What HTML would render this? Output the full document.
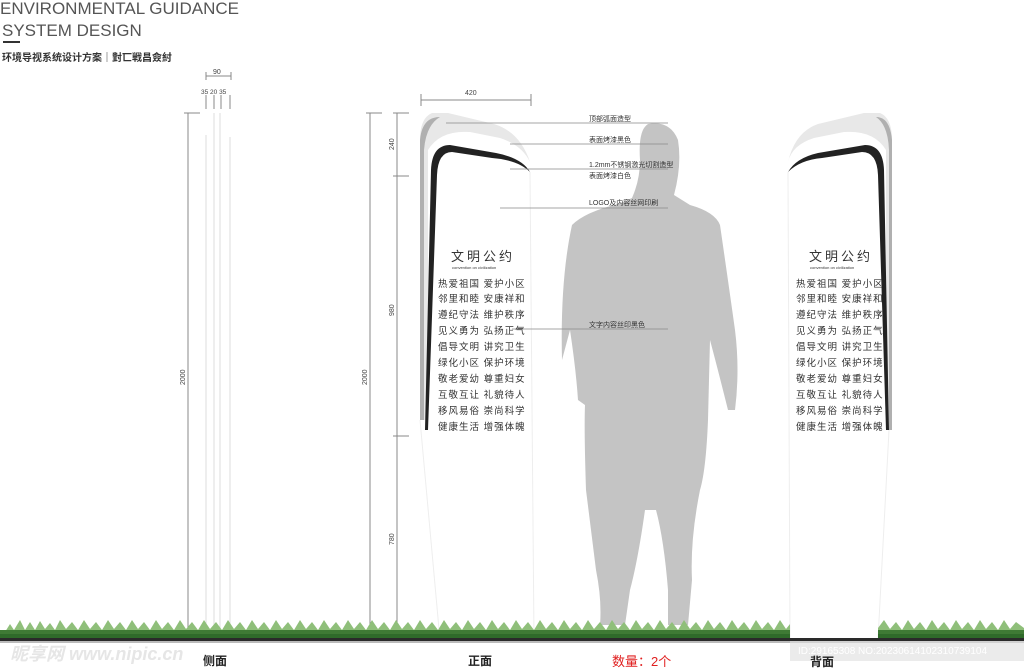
<!DOCTYPE html>
<html><head><meta charset="utf-8">
<style>
body{margin:0;background:#fff;}
svg{display:block;}
.t{font-family:"Liberation Sans","Noto Sans CJK SC",sans-serif;}
</style></head><body>
<svg width="1024" height="669" viewBox="0 0 1024 669" xmlns="http://www.w3.org/2000/svg">
<rect width="1024" height="669" fill="#fff"/>
<text x="0" y="14" class="t" font-size="17" fill="#555">ENVIRONMENTAL GUIDANCE</text>
<text x="2" y="36" class="t" font-size="17" fill="#555">SYSTEM DESIGN</text>
<rect x="3" y="41" width="17" height="2" fill="#333"/>
<text x="2" y="61" class="t" font-size="10" font-weight="bold" fill="#333">环境导视系统设计方案｜對匸戦昌僉紂</text>

<g stroke="#888" stroke-width="1" fill="none">
<line x1="206" y1="76" x2="231" y2="76"/><line x1="206" y1="72" x2="206" y2="80"/><line x1="231" y1="72" x2="231" y2="80"/>
<line x1="206" y1="95" x2="206" y2="109"/><line x1="214" y1="95" x2="214" y2="109"/><line x1="221" y1="95" x2="221" y2="109"/><line x1="230" y1="95" x2="230" y2="109"/>
<line x1="188" y1="113" x2="188" y2="640"/><line x1="184" y1="113" x2="200" y2="113"/>
<line x1="370" y1="113" x2="370" y2="640"/><line x1="366" y1="113" x2="382" y2="113"/>
<line x1="397" y1="113" x2="397" y2="636"/>
<line x1="393" y1="113" x2="409" y2="113"/><line x1="393" y1="176" x2="409" y2="176"/><line x1="393" y1="436" x2="409" y2="436"/><line x1="393" y1="635" x2="409" y2="635"/>
<line x1="421" y1="100" x2="531" y2="100"/><line x1="421" y1="94" x2="421" y2="106"/><line x1="531" y1="94" x2="531" y2="106"/>
</g>
<g stroke="#ddd" stroke-width="1">
<line x1="206" y1="135" x2="206" y2="640"/><line x1="214" y1="113" x2="214" y2="640"/><line x1="220" y1="113" x2="220" y2="640"/><line x1="230" y1="137" x2="230" y2="640"/>
</g>
<g class="t" font-size="7" fill="#444">
<text x="213" y="74">90</text>
<text x="201" y="94" font-size="6.5">35 20 35</text>
<text x="465" y="95">420</text>
<text transform="translate(185,385) rotate(-90)">2000</text>
<text transform="translate(367,385) rotate(-90)">2000</text>
<text transform="translate(394,150) rotate(-90)">240</text>
<text transform="translate(394,316) rotate(-90)">980</text>
<text transform="translate(394,545) rotate(-90)">780</text>
</g>

<!-- person -->
<path fill="#c4c4c4" d="M648 124 Q670 120 678 140 Q682 165 674 195 L690 205 Q715 212 720 225 Q728 280 735 330 Q740 370 735 410 L728 410 Q718 370 710 340 L708 420 Q706 470 700 490 Q690 540 692 580 L688 625 L668 625 L668 590 Q664 540 656 510 L645 510 Q638 560 630 590 L625 625 L600 625 Q602 600 596 570 L586 490 Q584 430 585 405 L578 400 Q576 370 570 330 L562 360 Q560 280 572 225 Q585 212 618 204 L632 198 Q640 180 640 160 Q638 130 648 124 Z"/>

<!-- front sign -->
<path fill="#e8e8e8" d="M432 113 Q420 118 420 140 L420 420 L428 420 L428 150 Q440 130 470 132 L500 138 Q522 145 530 162 Q520 132 494 124 L448 113 Z"/>
<path fill="#b0b0b0" d="M420 140 L420 420 L424 420 L424 150 Q426 125 440 117 Q422 117 420 140 Z"/>
<path fill="#222" d="M425 430 L431 170 Q432 145 450 145 L496 153 Q522 158 530 172 Q518 160 492 158 L452 152 Q438 152 437 175 L428 430 Z"/>
<path fill="none" stroke="#eee" d="M420 420 L440 640 M530 172 L534 640"/>

<!-- back sign -->
<path fill="#e8e8e8" d="M880 113 Q892 118 892 140 L892 420 L886 420 L886 150 Q874 130 844 132 L814 138 Q792 145 788 162 Q795 132 818 124 L864 113 Z"/>
<path fill="#b0b0b0" d="M892 140 L892 430 L889 430 L889 150 Q888 125 876 117 Q890 117 892 140 Z"/>
<path fill="#222" d="M889 430 L884 170 Q883 145 865 145 L818 153 Q796 158 788 172 Q800 160 822 158 L862 152 Q877 152 878 175 L886 430 Z"/>
<path fill="none" stroke="#eee" d="M788 172 L790 640 M889 430 L878 640"/>

<!-- callouts -->
<g stroke="#888" stroke-width="0.8">
<line x1="446" y1="123" x2="668" y2="123"/>
<line x1="510" y1="144" x2="668" y2="144"/>
<line x1="510" y1="169" x2="668" y2="169"/>
<line x1="500" y1="208" x2="668" y2="208"/>
<line x1="512" y1="329" x2="668" y2="329"/>
</g>
<g class="t" font-size="7" fill="#333">
<text x="589" y="121">顶部弧面造型</text>
<text x="589" y="142">表面烤漆黑色</text>
<text x="589" y="167">1.2mm不锈钢激光切割造型</text>
<text x="589" y="178">表面烤漆白色</text>
<text x="589" y="205">LOGO及内容丝网印刷</text>
<text x="589" y="327">文字内容丝印黑色</text>
</g>

<g class="t" fill="#333" font-size="9.5" letter-spacing="1">
<text x="451" y="261" font-size="13" letter-spacing="3">文明公约</text>
<text x="452" y="269" font-size="4" letter-spacing="0">convention on civilization</text>
<text x="438" y="287">热爱祖国 爱护小区</text>
<text x="438" y="302">邻里和睦 安康祥和</text>
<text x="438" y="318">遵纪守法 维护秩序</text>
<text x="438" y="334">见义勇为 弘扬正气</text>
<text x="438" y="350">倡导文明 讲究卫生</text>
<text x="438" y="366">绿化小区 保护环境</text>
<text x="438" y="382">敬老爱幼 尊重妇女</text>
<text x="438" y="398">互敬互让 礼貌待人</text>
<text x="438" y="414">移风易俗 崇尚科学</text>
<text x="438" y="430">健康生活 增强体魄</text>
<text x="809" y="261" font-size="13" letter-spacing="3">文明公约</text>
<text x="810" y="269" font-size="4" letter-spacing="0">convention on civilization</text>
<text x="796" y="287">热爱祖国 爱护小区</text>
<text x="796" y="302">邻里和睦 安康祥和</text>
<text x="796" y="318">遵纪守法 维护秩序</text>
<text x="796" y="334">见义勇为 弘扬正气</text>
<text x="796" y="350">倡导文明 讲究卫生</text>
<text x="796" y="366">绿化小区 保护环境</text>
<text x="796" y="382">敬老爱幼 尊重妇女</text>
<text x="796" y="398">互敬互让 礼貌待人</text>
<text x="796" y="414">移风易俗 崇尚科学</text>
<text x="796" y="430">健康生活 增强体魄</text>
</g>

<!-- grass -->
<path fill="#8fbf7a" d="M0 640 L5 632 L10 624 L14 630 L20 620 L25 630 L30 622 L35 630 L40 621 L45 629 L50 623 L55 630 L60 620 L66 629 L72 622 L78 630 L84 620 L90 629 L96 622 L102 630 L108 620 L114 629 L120 622 L126 630 L132 620 L138 629 L144 622 L150 630 L156 620 L162 629 L168 622 L174 630 L180 620 L186 629 L192 622 L198 630 L204 620 L210 629 L216 622 L222 630 L228 620 L234 629 L240 622 L246 630 L252 620 L258 629 L264 622 L270 630 L276 620 L282 629 L288 622 L294 630 L300 620 L306 629 L312 622 L318 630 L324 620 L330 629 L336 622 L342 630 L348 620 L354 629 L360 622 L366 630 L372 620 L378 629 L384 622 L390 630 L396 620 L402 629 L408 622 L414 630 L420 620 L426 629 L432 622 L438 630 L444 620 L450 629 L456 622 L462 630 L468 620 L474 629 L480 622 L486 630 L492 620 L498 629 L504 622 L510 630 L516 620 L522 629 L528 622 L534 630 L540 620 L546 629 L552 622 L558 630 L564 620 L570 629 L576 622 L582 630 L588 620 L594 629 L600 622 L606 630 L612 620 L618 629 L624 622 L630 630 L636 620 L642 629 L648 622 L654 630 L660 620 L666 629 L672 622 L678 630 L684 620 L690 629 L696 622 L702 630 L708 620 L714 629 L720 622 L726 630 L732 620 L738 629 L744 622 L750 630 L756 620 L762 629 L768 622 L774 630 L780 620 L786 629 L790 624 L790 640 Z"/>
<path fill="#8fbf7a" d="M878 640 L878 628 L884 620 L890 629 L896 622 L902 630 L908 620 L914 629 L920 622 L926 630 L932 620 L938 629 L944 622 L950 630 L956 620 L962 629 L968 622 L974 630 L980 620 L986 629 L992 622 L998 630 L1004 620 L1010 629 L1016 622 L1024 628 L1024 640 Z"/>
<rect x="0" y="630" width="790" height="9" fill="#3f7a35"/>
<rect x="878" y="630" width="146" height="9" fill="#3f7a35"/>
<rect x="0" y="634" width="790" height="4" fill="#2f6a2a"/>
<rect x="878" y="634" width="146" height="4" fill="#2f6a2a"/>
<rect x="0" y="638" width="1024" height="3" fill="#2a2a2a"/>
<rect x="0" y="641" width="1024" height="2" fill="#bbb"/>

<rect x="790" y="641" width="234" height="20" fill="#ddd" opacity="0.6"/>
<text x="798" y="654" class="t" font-size="10" fill="#fff">ID:29165308 NO:20230614102310739104</text>
<text x="10" y="660" class="t" font-size="18" font-weight="bold" fill="#e6e6e6" font-style="italic">昵享网 www.nipic.cn</text>
<g class="t" font-size="12" font-weight="bold" fill="#222">
<text x="203" y="665">侧面</text>
<text x="468" y="665">正面</text>
<text x="810" y="666">背面</text>
</g>
<text x="612" y="666" class="t" font-size="13" fill="#e02020">数量：2个</text>
</svg>
</body></html>
